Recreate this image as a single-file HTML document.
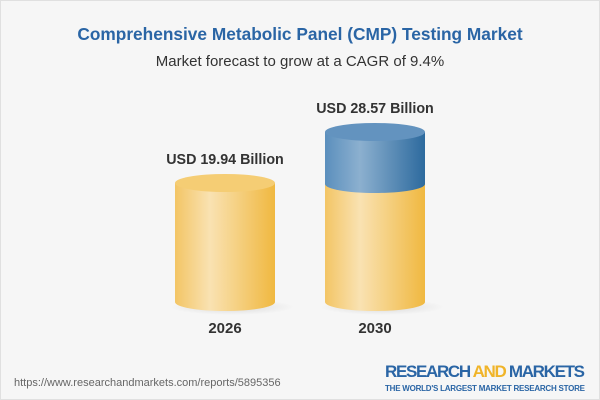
<!DOCTYPE html>
<html><head><meta charset="utf-8"><style>
html,body{margin:0;padding:0;}
body{width:600px;height:400px;background:#f6f6f6;font-family:"Liberation Sans",Arial,sans-serif;position:relative;overflow:hidden;}
.frame{position:absolute;left:0;top:0;width:598px;height:398px;border:1px solid #e0e0e0;}
.t{position:absolute;left:0;width:600px;text-align:center;}
</style></head><body>
<div class="frame"></div>
<div class="t" style="top:24px;font-size:17.3px;font-weight:bold;color:#2a65a5;">Comprehensive Metabolic Panel (CMP) Testing Market</div>
<div class="t" style="top:53px;font-size:15px;color:#333;">Market forecast to grow at a CAGR of 9.4%</div>
<svg width="600" height="400" style="position:absolute;left:0;top:0">
<defs>
<linearGradient id="y" x1="0" x2="1"><stop offset="0" stop-color="#f3c565"/><stop offset="0.35" stop-color="#f9e2b2"/><stop offset="1" stop-color="#f0b840"/></linearGradient>
<linearGradient id="b" x1="0" x2="1"><stop offset="0" stop-color="#5b8fbd"/><stop offset="0.35" stop-color="#8cb0cf"/><stop offset="1" stop-color="#2d6a9e"/></linearGradient>
<radialGradient id="sh"><stop offset="0" stop-color="#000" stop-opacity="0.12"/><stop offset="1" stop-color="#000" stop-opacity="0"/></radialGradient>
</defs>
<ellipse cx="232" cy="307" rx="62" ry="8" fill="url(#sh)"/>
<ellipse cx="382" cy="307" rx="62" ry="8" fill="url(#sh)"/>
<path d="M175 183 L175 302 A50 9 0 0 0 275 302 L275 183 Z" fill="url(#y)"/>
<ellipse cx="225" cy="183" rx="50" ry="9" fill="#f5cd74"/>
<path d="M325 184 L325 302 A50 9 0 0 0 425 302 L425 184 Z" fill="url(#y)"/>
<path d="M325 132 L325 184 A50 9 0 0 0 425 184 L425 132 Z" fill="url(#b)"/>
<ellipse cx="375" cy="132" rx="50" ry="9" fill="#6393bf"/>
<g font-family="Liberation Sans,Arial,sans-serif" font-weight="bold" fill="#333" text-anchor="middle">
<text x="225" y="164" font-size="14.3">USD 19.94 Billion</text>
<text x="375" y="113" font-size="14.3">USD 28.57 Billion</text>
<text x="225" y="333" font-size="15">2026</text>
<text x="375" y="333" font-size="15">2030</text>
</g>
<text x="14" y="386" font-size="11" fill="#666" font-family="Liberation Sans,Arial,sans-serif">https://www.researchandmarkets.com/reports/5895356</text>
<text x="585" y="377" text-anchor="end" font-size="17" font-weight="bold" fill="#2a65a5" font-family="Liberation Sans,Arial,sans-serif" textLength="200">RESEARCH <tspan fill="#f0b429">AND</tspan> MARKETS</text>
<text x="585" y="391" text-anchor="end" font-size="8" font-weight="bold" fill="#2a65a5" font-family="Liberation Sans,Arial,sans-serif" textLength="200">THE WORLD'S LARGEST MARKET RESEARCH STORE</text>
</svg>
</body></html>
